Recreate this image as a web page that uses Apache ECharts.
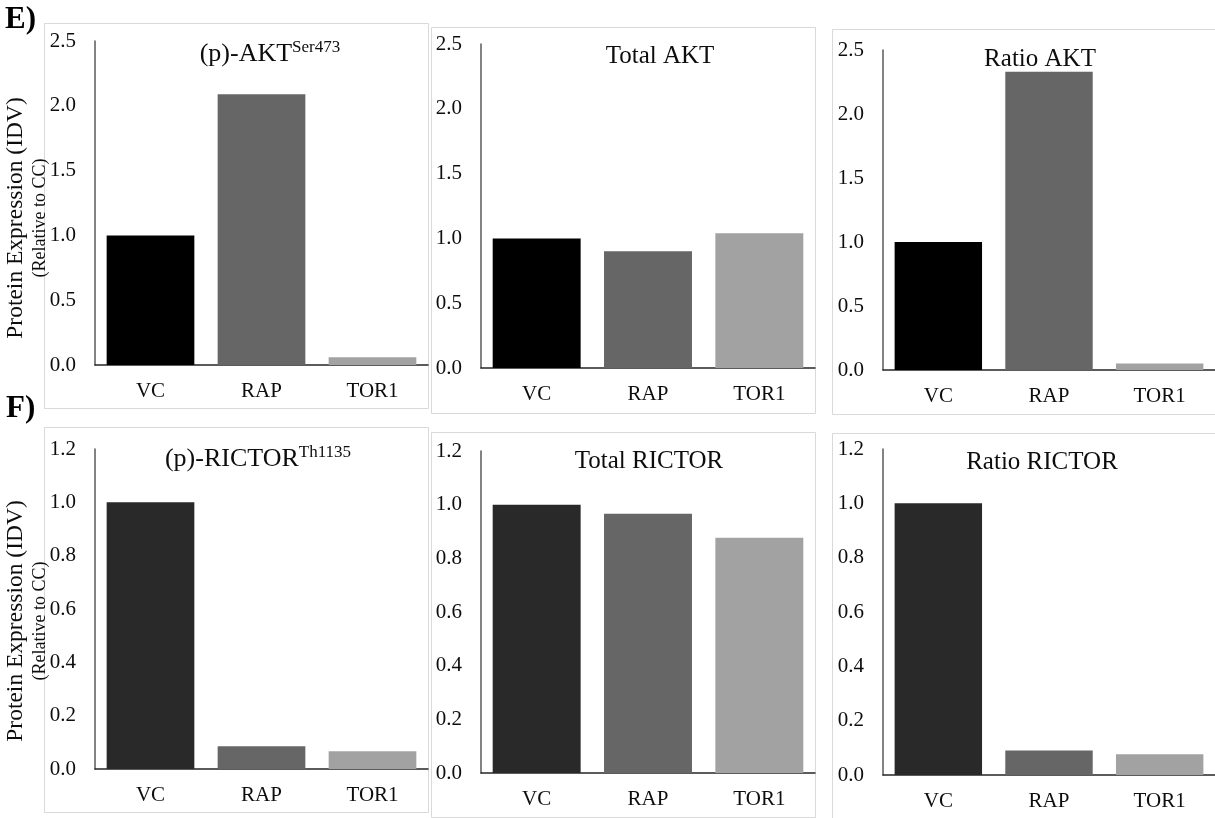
<!DOCTYPE html>
<html>
<head>
<meta charset="utf-8">
<script src="https://cdn.jsdelivr.net/npm/echarts@6/dist/echarts.min.js"></script>
<style>
html,body{margin:0;padding:0;background:#fff;}
#chart{width:1215px;height:818px;}
</style>
</head>
<body>
<div id="chart"></div>
<script>
// ---- data ----
var categories = ['VC', 'RAP', 'TOR1'];
var aktPhospho = [1.0, 2.09, 0.06];
var aktTotal = [1.0, 0.90, 1.04];
var aktRatio = [1.0, 2.33, 0.05];
var rictorPhospho = [1.0, 0.085, 0.067];
var rictorTotal = [1.0, 0.966, 0.877];
var rictorRatio = [1.0, 0.09, 0.076];
var aktAxisMax = 2.5, aktAxisStep = 0.5;
var rictorAxisMax = 1.2, rictorAxisStep = 0.2;
var panelTitles = ['{m|(p)-AKT}{s|Ser473}', '{m|Total AKT}', '{m|Ratio AKT}',
                   '{m|(p)-RICTOR}{s|Th1135}', '{m|Total RICTOR}', '{m|Ratio RICTOR}'];
var panelLetters = ['E)', 'F)'];
var yTitleMain = 'Protein Expression (IDV)';
var yTitleSub = '(Relative to CC)';

// ---- layout / style ----
var FONT = "'Liberation Serif','Times New Roman',serif";
var topColors = ['#000000', '#666666', '#a2a2a2'];
var botColors = ['#292929', '#666666', '#a2a2a2'];
var panels = [
  {data: aktPhospho,    max: aktAxisMax,    step: aktAxisStep,    colors: topColors, grid: {left: 95,  top: 41,  width: 333, height: 324}, frame: [44, 23, 384, 385],  title: [270, 54], tfs: 26},
  {data: aktTotal,      max: aktAxisMax,    step: aktAxisStep,    colors: topColors, grid: {left: 481, top: 44,  width: 334, height: 324}, frame: [431, 27, 384, 386], title: [660, 56], tfs: 25},
  {data: aktRatio,      max: aktAxisMax,    step: aktAxisStep,    colors: topColors, grid: {left: 883, top: 50,  width: 335, height: 320}, frame: [832, 29, 420, 385], title: [1040, 59], tfs: 25},
  {data: rictorPhospho, max: rictorAxisMax, step: rictorAxisStep, colors: botColors, grid: {left: 95,  top: 449, width: 333, height: 320}, frame: [44, 427, 384, 385], title: [258, 459], tfs: 26},
  {data: rictorTotal,   max: rictorAxisMax, step: rictorAxisStep, colors: botColors, grid: {left: 481, top: 451, width: 334, height: 322}, frame: [431, 432, 384, 385], title: [649, 461], tfs: 25},
  {data: rictorRatio,   max: rictorAxisMax, step: rictorAxisStep, colors: botColors, grid: {left: 883, top: 449, width: 335, height: 326}, frame: [832, 433, 420, 420], title: [1042, 462], tfs: 25}
];

var grids = [], xAxes = [], yAxes = [], series = [], graphics = [];

panels.forEach(function (p, i) {
  graphics.push({
    type: 'rect', z: 0, silent: true,
    shape: {x: p.frame[0] + 0.5, y: p.frame[1] + 0.5, width: p.frame[2], height: p.frame[3]},
    style: {fill: null, stroke: '#d9d9d9', lineWidth: 1}
  });
  graphics.push({
    type: 'text', z: 10, x: p.title[0], y: p.title[1],
    style: {
      text: panelTitles[i], align: 'center', verticalAlign: 'middle',
      rich: {
        m: {fontFamily: FONT, fontSize: p.tfs, lineHeight: 30, fill: '#0d0d0d', verticalAlign: 'middle'},
        s: {fontFamily: FONT, fontSize: 17, lineHeight: 30, fill: '#0d0d0d', verticalAlign: 'top'}
      }
    }
  });
  grids.push(Object.assign({containLabel: false}, p.grid));
  xAxes.push({
    type: 'category', gridIndex: i, data: categories,
    axisLine: {lineStyle: {color: '#262626', width: 1.5}},
    axisTick: {alignWithLabel: true, length: 5, lineStyle: {color: '#262626', width: 1.5}},
    axisLabel: {fontFamily: FONT, fontSize: 21, color: '#0d0d0d', margin: 16},
    splitLine: {show: false}
  });
  yAxes.push({
    type: 'value', gridIndex: i, min: 0, max: p.max, interval: p.step,
    axisLine: {show: true, lineStyle: {color: '#5a5a5a', width: 1.5}},
    axisTick: {show: false},
    splitLine: {show: false},
    axisLabel: {fontFamily: FONT, fontSize: 21, color: '#0d0d0d', margin: 19,
      formatter: function (v) { return v.toFixed(1); }}
  });
  series.push({
    type: 'bar', xAxisIndex: i, yAxisIndex: i,
    barCategoryGap: '21%',
    data: p.data.map(function (v, k) {
      return {value: v, itemStyle: {color: p.colors[k]}};
    }),
    animation: false
  });
});

// y axis titles (rotated)
[[27, 218], [27, 621]].forEach(function (pos) {
  graphics.push({
    type: 'text', z: 10, x: pos[0], y: pos[1], rotation: Math.PI / 2,
    style: {
      text: '{a|' + yTitleMain + '}\n{b|' + yTitleSub + '}',
      align: 'center', verticalAlign: 'middle',
      rich: {
        a: {fontFamily: FONT, fontSize: 23.5, lineHeight: 26, fill: '#0d0d0d', align: 'center'},
        b: {fontFamily: FONT, fontSize: 18, lineHeight: 22, fill: '#0d0d0d', align: 'center'}
      }
    }
  });
});

// panel letters
[[5, 20], [6, 409]].forEach(function (pos, k) {
  graphics.push({
    type: 'text', z: 10, x: pos[0], y: pos[1],
    style: {text: panelLetters[k], fontFamily: FONT, fontSize: 31, fontWeight: 'bold',
            fill: '#000', align: 'left', verticalAlign: 'middle'}
  });
});

var chart = echarts.init(document.getElementById('chart'), null, {renderer: 'canvas'});
chart.setOption({
  animation: false,
  backgroundColor: '#ffffff',
  grid: grids, xAxis: xAxes, yAxis: yAxes, series: series,
  graphic: graphics
});
</script>
</body>
</html>
